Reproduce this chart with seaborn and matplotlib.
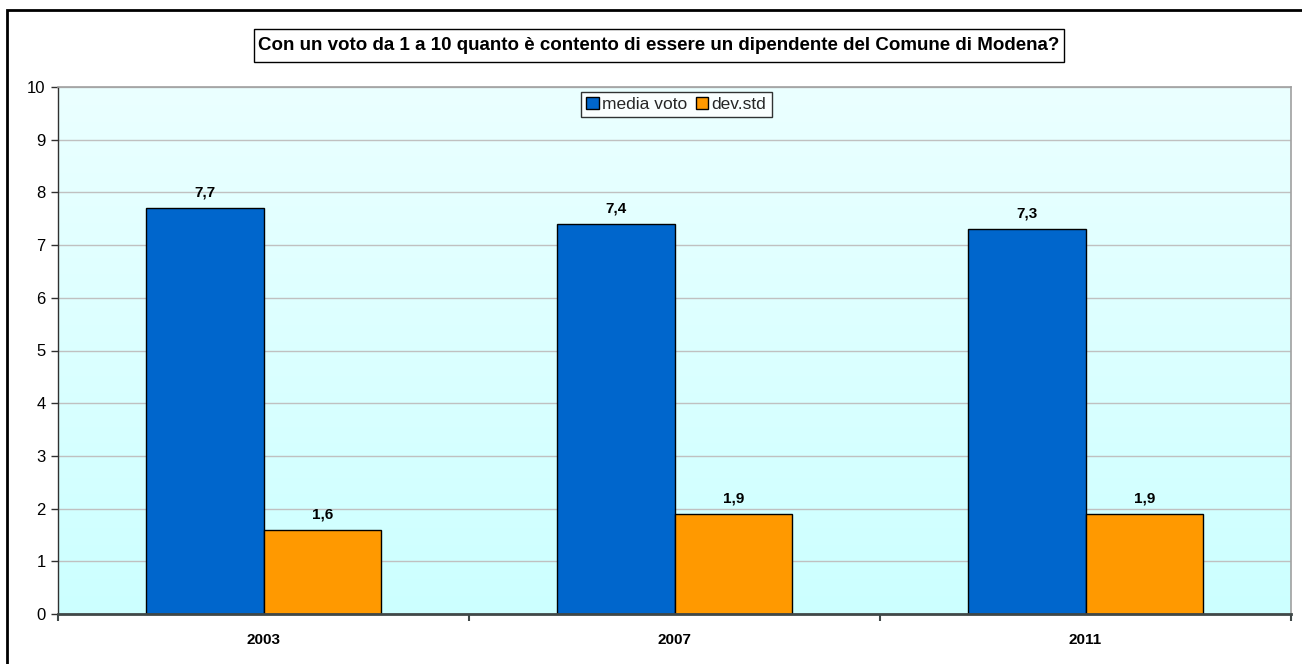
import numpy as np
import pandas as pd
import matplotlib
matplotlib.use("Agg")
import matplotlib.pyplot as plt
from matplotlib.patches import Rectangle
import seaborn as sns

# Survey results: average score and standard deviation per year
years = ["2003", "2007", "2011"]
media_voto = [7.7, 7.4, 7.3]
dev_std = [1.6, 1.9, 1.9]
series_names = ["media voto", "dev.std"]
title_text = "Con un voto da 1 a 10 quanto è contento di essere un dipendente del Comune di Modena?"

df = pd.DataFrame({
    "anno": years * 2,
    "serie": [series_names[0]] * len(years) + [series_names[1]] * len(years),
    "valore": media_voto + dev_std,
})

sns.set_theme(style="white")
plt.rcParams["font.family"] = ["Liberation Sans", "DejaVu Sans"]

W, H = 1302, 664
fig = plt.figure(figsize=(W / 100, H / 100), dpi=100)
fig.patch.set_facecolor("white")

left, right, top, bottom = 58, 1291, 87, 614
ax = fig.add_axes([left / W, 1 - bottom / H, (right - left) / W, (bottom - top) / H])

palette = {series_names[0]: "#0066CC", series_names[1]: "#FF9900"}
sns.barplot(data=df, x="anno", y="valore", hue="serie", palette=palette,
            width=0.572, gap=0, edgecolor="black", linewidth=1.0,
            saturation=1, ax=ax, zorder=3)

# Vertical gradient in the plotting area
grad = np.linspace(0, 1, 256).reshape(-1, 1)
top_c = np.array([235, 255, 255]) / 255
bot_c = np.array([204, 255, 255]) / 255
img = top_c[None, None, :] * (1 - grad[..., None]) + bot_c[None, None, :] * grad[..., None]
ax.imshow(img, extent=(-0.5, 2.5, 0, 10), aspect="auto", origin="upper", zorder=0)
ax.set_xlim(-0.5, 2.5)
ax.set_ylim(0, 10)

# Horizontal gridlines
ax.set_yticks(range(0, 11))
ax.yaxis.grid(True, color="#C0C0C0", linewidth=1.0, zorder=1)
ax.set_axisbelow(True)

# Axes styling
ax.spines["top"].set_color("#A0A0A0")
ax.spines["right"].set_color("#A0A0A0")
ax.spines["top"].set_linewidth(1.2)
ax.spines["right"].set_linewidth(1.2)
ax.spines["left"].set_color("#303030")
ax.spines["left"].set_linewidth(1.0)
ax.spines["bottom"].set_color("#404848")
ax.spines["bottom"].set_linewidth(2.0)
for s in ax.spines.values():
    s.set_zorder(5)

ax.tick_params(axis="y", which="major", direction="out", length=5, width=1,
               color="#303030", labelsize=12, pad=4, left=True, labelcolor="black")
ax.set_xticks(range(len(years)))
ax.set_xticklabels(years, fontweight="bold", fontsize=11)
ax.tick_params(axis="x", which="major", length=0, pad=14, labelcolor="black")
ax.set_xticks([-0.5, 0.5, 1.5, 2.5], minor=True)
ax.tick_params(axis="x", which="minor", direction="out", length=5, width=1.5,
               color="#404848", bottom=True)
ax.set_xlabel("")
ax.set_ylabel("")

# Value labels above the bars
for cont in ax.containers:
    vals = cont.datavalues
    ax.bar_label(cont, labels=[f"{v:.1f}".replace(".", ",") for v in vals],
                 padding=6, fontsize=11, fontweight="bold", color="black", zorder=6)

# Legend
handles, labels = ax.get_legend_handles_labels()
leg = ax.legend(handles, labels, loc="upper center", bbox_to_anchor=(0.5015, 0.991),
                ncol=2, frameon=True, fancybox=False, fontsize=12.5,
                handlelength=0.7, handleheight=0.7, handletextpad=0.2,
                columnspacing=0.5, borderpad=0.3, borderaxespad=0)
leg.get_frame().set_edgecolor("black")
leg.get_frame().set_linewidth(1.0)
leg.get_frame().set_facecolor("white")
for p in leg.get_patches():
    p.set_edgecolor("black")
    p.set_linewidth(1.0)

# Title text with its own frame
fig.text(659 / W, 1 - 46 / H, title_text, ha="center", va="center",
         fontsize=13.5, fontweight="bold", color="black")
fig.patches.append(Rectangle((254 / W, 1 - 62 / H), (1064 - 254) / W, 33 / H,
                             transform=fig.transFigure, facecolor="none",
                             edgecolor="black", linewidth=1.0))

# Outer chart frame (extends past the right and bottom edges)
fig.patches.append(Rectangle((7 / W, -0.05), 1.1, 1 - 10 / H + 0.05,
                             transform=fig.transFigure, fill=False,
                             edgecolor="black", linewidth=2.0, clip_on=False))

fig.savefig("out.png", dpi=100)
